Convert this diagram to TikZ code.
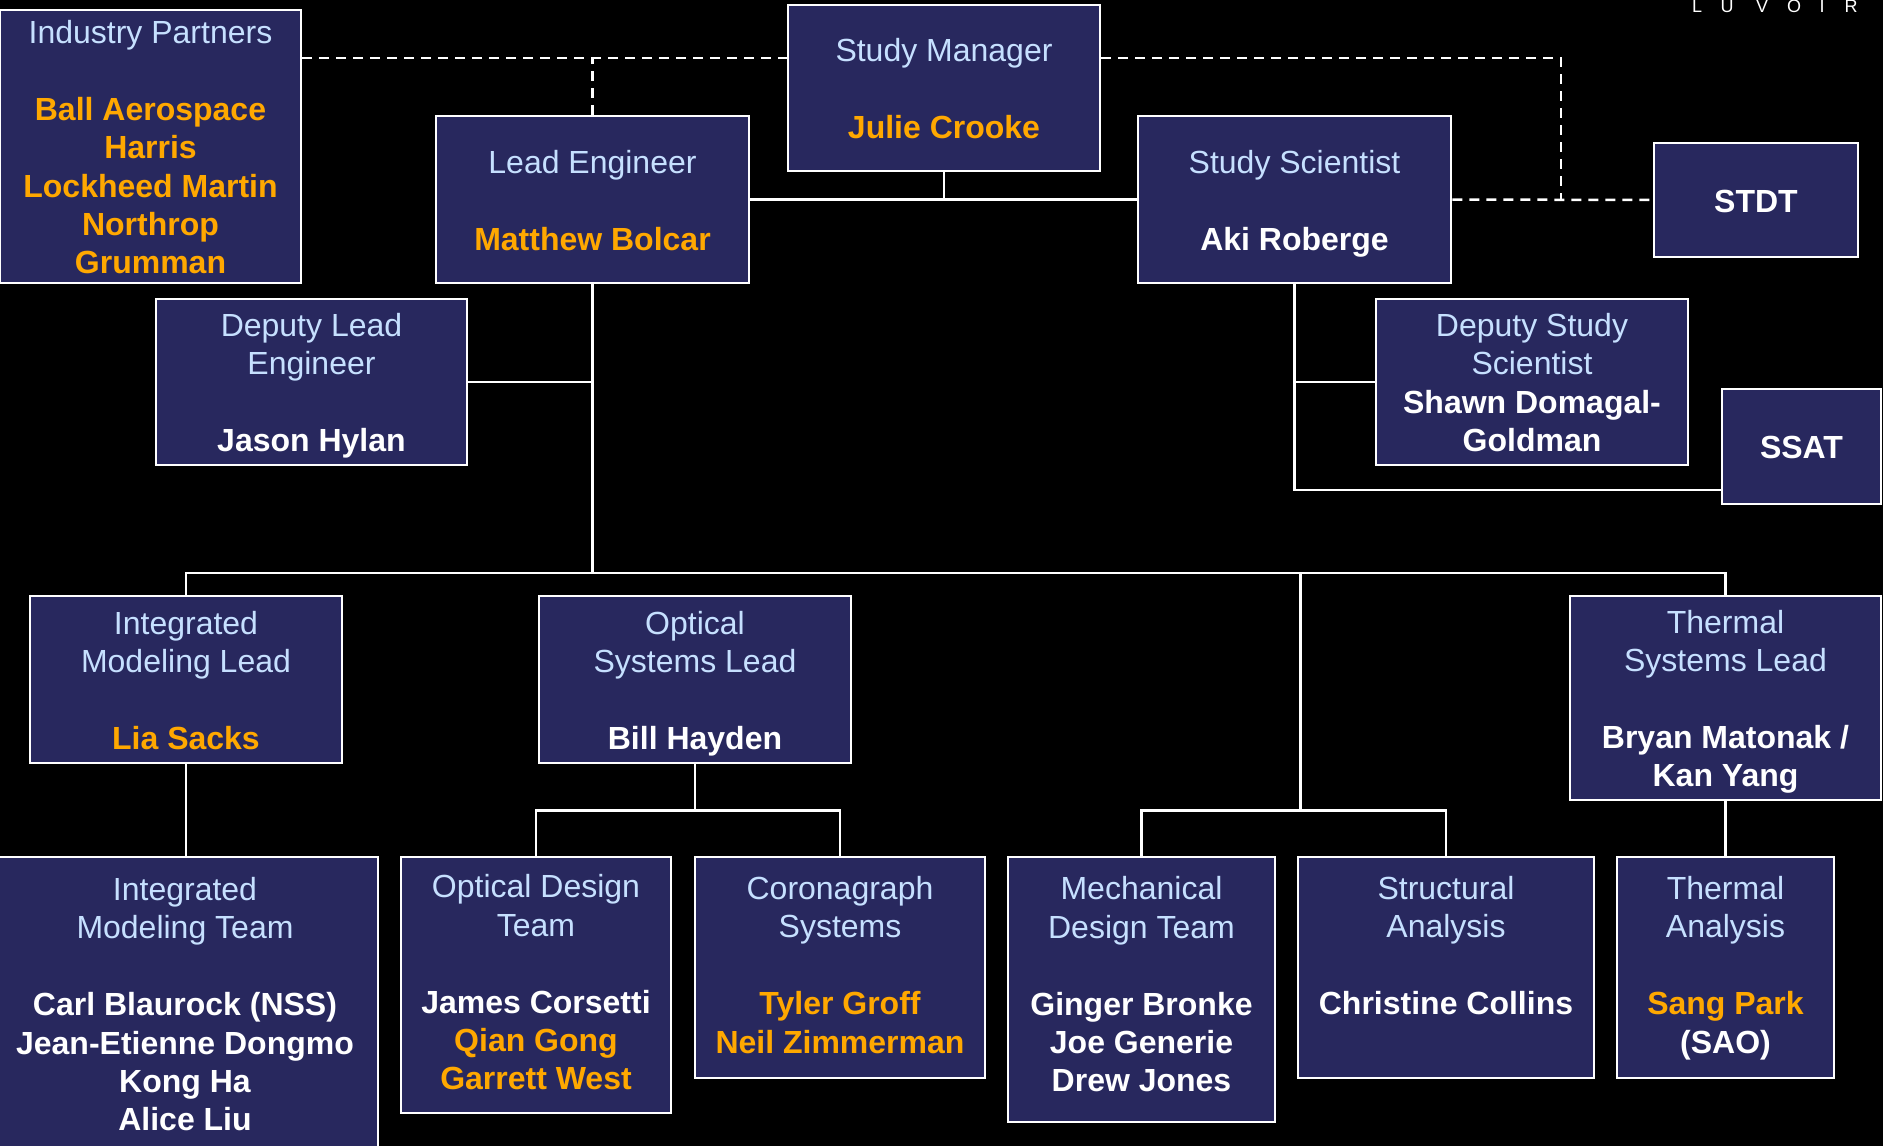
\documentclass[tikz,border=0pt]{standalone}
\usepackage{fontspec}
\setmainfont{Liberation Sans}
\definecolor{navy}{RGB}{40,40,94}
\definecolor{titleblue}{RGB}{198,224,255}
\definecolor{gold}{RGB}{255,168,0}
\newcommand\gname[1]{{\bfseries\color{gold}#1}}
\newcommand\wname[1]{{\bfseries\color{white}#1}}
\newcommand\gap{\\[38.4pt]}
\newcommand\tstrut{\rule[-7.4pt]{0pt}{39pt}}
\newcommand\boxfont{\fontsize{32}{38.4}\selectfont\lineskiplimit=-100pt\relax}

\begin{document}
\begin{tikzpicture}[x=1pt, y=-1pt,
  box/.style={draw=white, line width=2.5pt, fill=navy, text=titleblue, align=center, inner sep=0pt,
    font=\boxfont, execute at end node=\tstrut},
  bpad/.style={execute at end node=\rule[-#1]{0pt}{39pt}},
  link/.style={white, line width=2.5pt},
  dlink/.style={link, dash pattern=on 10pt off 7pt}]
\fill[black] (0,0) rectangle (1883,1146);
\useasboundingbox (0,0) rectangle (1883,1146);

\foreach \l/\x in {L/1697,U/1727,V/1762,O/1794,I/1822,R/1851}
  \node[text=white, font=\fontsize{18}{18}\selectfont, anchor=base, inner sep=0pt] (luv\l) at (\x,12) {\l};

\node[box, minimum width=301, minimum height=273] (indp) at (150.5,146.5) {\tstrut Industry Partners\gap\gname{Ball Aerospace}\\\gname{Harris}\\\gname{Lockheed Martin}\\\gname{Northrop}\\\gname{Grumman}};
\node[box, minimum width=312, minimum height=166] (mgr) at (944,88) {\tstrut Study Manager\gap\gname{Julie Crooke}};
\node[box, minimum width=313, minimum height=167] (lead) at (592.5,199.5) {\tstrut Lead Engineer\gap\gname{Matthew Bolcar}};
\node[box, minimum width=313, minimum height=167] (sci) at (1294.5,199.5) {\tstrut Study Scientist\gap\wname{Aki Roberge}};
\node[box, minimum width=204, minimum height=114] (stdt) at (1756,200) {\tstrut\wname{STDT}};
\node[box, minimum width=311, minimum height=166] (dlead) at (311.5,382) {\tstrut Deputy Lead\\Engineer\gap\wname{Jason Hylan}};
\node[box, minimum width=312, minimum height=166] (dsci) at (1532,382) {\tstrut Deputy Study\\Scientist\\\wname{Shawn Domagal-}\\\wname{Goldman}};
\node[box, minimum width=159, minimum height=115] (ssat) at (1801.5,446.5) {\tstrut\wname{SSAT}};

\node[box, minimum width=312, minimum height=167] (iml) at (186,679.5) {\tstrut Integrated\\Modeling Lead\gap\gname{Lia Sacks}};
\node[box, minimum width=312, minimum height=167] (osl) at (695,679.5) {\tstrut Optical\\Systems Lead\gap\wname{Bill Hayden}};
\node[box, minimum width=311, minimum height=204] (tsl) at (1725.5,698) {\tstrut Thermal\\Systems Lead\gap\wname{Bryan Matonak /}\\\wname{Kan Yang}};

\node[box, minimum width=386, minimum height=293] (imt) at (185,1003.5) {\tstrut Integrated\\Modeling Team\gap\wname{Carl Blaurock (NSS)}\\\wname{Jean-Etienne Dongmo}\\\wname{Kong Ha}\\\wname{Alice Liu}};
\node[box, bpad=14pt, minimum width=270, minimum height=256] (odt) at (536,985) {\tstrut Optical Design\\Team\gap\wname{James Corsetti}\\\gname{Qian Gong}\\\gname{Garrett West}};
\node[box, bpad=14pt, minimum width=290, minimum height=221] (cor) at (840,967.5) {\tstrut Coronagraph\\Systems\gap\gname{Tyler Groff}\\\gname{Neil Zimmerman}};
\node[box, bpad=19pt, minimum width=267, minimum height=265] (mdt) at (1141.5,989.5) {\tstrut Mechanical\\Design Team\gap\wname{Ginger Bronke}\\\wname{Joe Generie}\\\wname{Drew Jones}};
\node[box, bpad=14pt, minimum width=296, minimum height=221] (sta) at (1446,967.5) {\tstrut Structural\\Analysis\gap\wname{Christine Collins}\\\mbox{}};
\node[box, bpad=14pt, minimum width=217, minimum height=221] (tha) at (1725.5,967.5) {\tstrut Thermal\\Analysis\gap\gname{Sang Park}\\\wname{(SAO)}};

\coordinate (dtop) at (0,58);
\coordinate (dsplit) at (1561,58);
\coordinate (bus) at (0,573);
\coordinate (lbus) at (0,810.6);
\coordinate (mdrop) at (1300.5,573);
\coordinate (ssatl) at (0,490);

\draw[dlink] (indp.east |- dtop) -- (mgr.west |- dtop);
\draw[dlink] (lead.north) -- (lead.north |- dtop);
\draw[dlink] (mgr.east |- dtop) -| (dsplit |- sci.east);
\draw[dlink] (sci.east) -- (stdt.west);

\draw[link] (mgr.south) -- (mgr.south |- lead.east);
\draw[link] (lead.east) -- (sci.west);
\draw[link] (lead.south) -- (lead.south |- bus);
\draw[link] (dlead.east) -- (dlead.east -| lead.south);
\draw[link] (sci.south) |- (ssat.west |- ssatl);
\draw[link] (dsci.west) -- (dsci.west -| sci.south);

\draw[link] (iml.north) -- (iml.north |- bus) -- (tsl.north |- bus) -- (tsl.north);
\draw[link] (mdrop) -- (mdrop |- lbus);
\draw[link] (mdt.north) -- (mdt.north |- lbus) -- (sta.north |- lbus) -- (sta.north);
\draw[link] (osl.south) -- (osl.south |- lbus);
\draw[link] (odt.north) -- (odt.north |- lbus) -- (cor.north |- lbus) -- (cor.north);
\draw[link] (iml.south) -- (iml.south |- imt.north);
\draw[link] (tsl.south) -- (tha.north);
\end{tikzpicture}
\end{document}
